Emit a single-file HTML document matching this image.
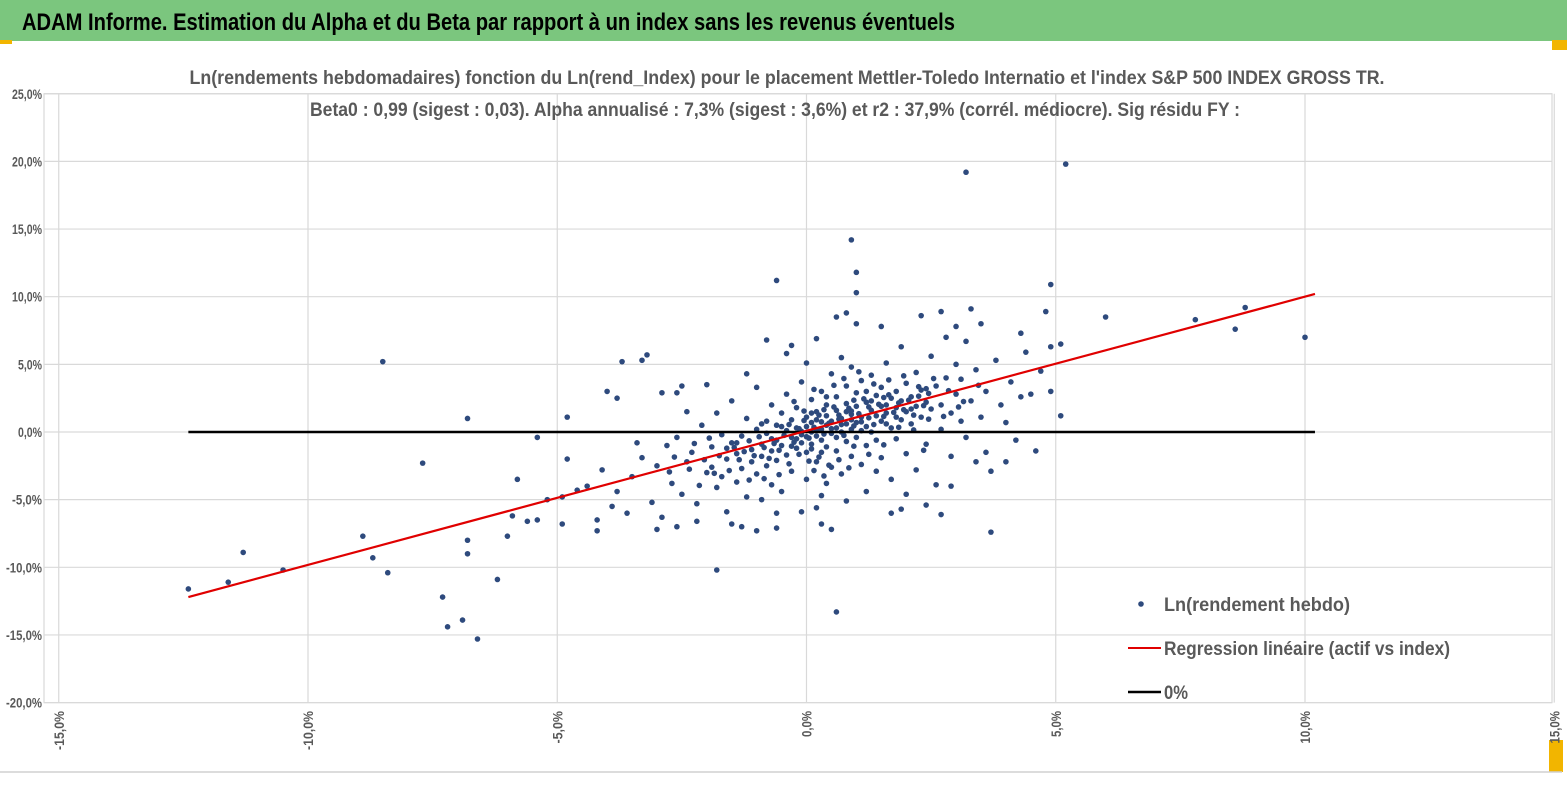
<!DOCTYPE html>
<html><head><meta charset="utf-8"><style>
html,body{margin:0;padding:0;background:#fff;}
svg{display:block;font-family:"Liberation Sans",sans-serif;}
</style></head><body>
<svg id="chart" width="1567" height="787" viewBox="0 0 1567 787">
<rect x="0" y="0" width="1567" height="41" fill="#7BC67E"/>
<text x="22" y="30" font-size="24" font-weight="bold" fill="#000" textLength="933" lengthAdjust="spacingAndGlyphs">ADAM Informe. Estimation du Alpha et du Beta par rapport à un index sans les revenus éventuels</text>
<rect x="0" y="40" width="12" height="4" fill="#F2B500"/>
<rect x="1552" y="40" width="15" height="10" fill="#F2B500"/>
<rect x="1549" y="740" width="14" height="32" fill="#F2B500"/>
<line x1="0" y1="772" x2="1562" y2="772" stroke="#D0D0D0" stroke-width="1.5"/>
<g id="grid"></g>
<g id="marks"></g>
<text x="787" y="84" text-anchor="middle" font-size="19" font-weight="bold" fill="#595959" textLength="1195" lengthAdjust="spacingAndGlyphs">Ln(rendements hebdomadaires) fonction du Ln(rend_Index) pour le placement Mettler-Toledo Internatio et l'index S&amp;P 500 INDEX GROSS TR.</text>
<text x="775" y="116" text-anchor="middle" font-size="19" font-weight="bold" fill="#595959" textLength="930" lengthAdjust="spacingAndGlyphs">Beta0 : 0,99 (sigest : 0,03). Alpha annualisé : 7,3% (sigest : 3,6%) et r2 : 37,9% (corrél. médiocre). Sig résidu FY :</text>
<g>
<circle cx="1141" cy="604" r="2.8" fill="#2E4A7D"/>
<text x="1164" y="611" font-size="19" font-weight="bold" fill="#595959" textLength="186" lengthAdjust="spacingAndGlyphs">Ln(rendement hebdo)</text>
<line x1="1128" y1="648" x2="1161" y2="648" stroke="#E00000" stroke-width="2"/>
<text x="1164" y="655" font-size="19" font-weight="bold" fill="#595959" textLength="286" lengthAdjust="spacingAndGlyphs">Regression linéaire (actif vs index)</text>
<line x1="1128" y1="692" x2="1161" y2="692" stroke="#000" stroke-width="2.5"/>
<text x="1164" y="699" font-size="19" font-weight="bold" fill="#595959" textLength="24" lengthAdjust="spacingAndGlyphs">0%</text>
</g>
</svg>
<script>
const xTicks=[-15,-10,-5,0,5,10,15];
const yTicks=[25,20,15,10,5,0,-5,-10,-15,-20];
const regressionX=[-12.4,10.2];
const regressionY=[-12.2,10.2];
const zeroLineX=[-12.4,10.2];
const zeroLineY=[0,0];
const weeklyPoints=[
[-12.4,-11.6],[-11.6,-11.1],[-11.3,-8.9],[-10.5,-10.2],[-8.9,-7.7],[-8.7,-9.3],[-8.5,5.2],[-8.4,-10.4],[-7.7,-2.3],[-7.3,-12.2],
[-7.2,-14.4],[-6.9,-13.9],[-6.8,1.0],[-6.8,-8.0],[-6.8,-9.0],[-6.6,-15.3],[-6.2,-10.9],[-6.0,-7.7],[-5.9,-6.2],[-5.8,-3.5],
[-5.6,-6.6],[-5.4,-6.5],[-5.4,-0.4],[-5.2,-5.0],[-4.9,-6.8],[-4.9,-4.8],[-4.8,-2.0],[-4.8,1.1],[-4.6,-4.3],[-4.4,-4.0],
[-4.2,-7.3],[-4.2,-6.5],[-3.9,-5.5],[-3.8,2.5],[-3.7,5.2],[-4.0,3.0],[-3.2,5.7],[-3.3,5.3],[-2.9,2.9],[-2.6,-7.0],
[-1.8,-10.2],[-0.6,11.2],[0.6,-13.3],[0.9,14.2],[1.0,11.8],[1.0,10.3],[0.8,8.8],[3.2,19.2],[5.2,19.8],[4.9,10.9],
[4.8,8.9],[4.9,6.3],[5.1,6.5],[6.0,8.5],[7.8,8.3],[8.6,7.6],[8.8,9.2],[10.0,7.0],[3.7,-7.4],[3.5,8.0],
[3.3,9.1],[5.1,1.2],[4.6,-1.4],[3.4,-2.2],[2.9,-4.0],[2.7,-6.1],[1.7,-6.0],[0.5,-7.2],[-0.6,-6.0],[-1.3,-7.0],
[0.3,-6.8],[4.0,0.7],[4.3,2.6],[4.0,-2.2],
[-3.0,-2.5],[-2.8,-1.0],[-2.7,-3.8],[-2.6,-0.4],[-2.5,-4.6],[-2.4,-2.2],[-2.3,-1.5],[-2.2,-5.3],[-2.1,0.5],[-2.0,-3.0],
[-1.9,-1.1],[-1.9,-2.6],[-1.8,-4.1],[-1.8,1.4],[-1.7,-0.2],[-1.7,-3.3],[-1.6,-2.0],[-1.6,-5.9],[-1.5,-0.8],[-1.5,2.3],
[-1.4,-1.6],[-1.4,-3.7],[-1.3,-0.3],[-1.3,-2.7],[-1.2,1.0],[-1.2,-4.8],[-1.1,-1.3],[-1.1,-2.2],[-1.0,0.2],[-1.0,-3.1],
[-1.0,3.3],[-0.9,-0.9],[-0.9,-1.8],[-0.9,-5.0],[-0.8,0.8],[-0.8,-2.5],[-0.8,-0.1],[-0.7,-1.4],[-0.7,2.0],[-0.7,-3.9],
[-0.6,-0.6],[-0.6,0.5],[-0.6,-2.1],[-0.5,1.4],[-0.5,-1.0],[-0.5,-4.4],[-0.4,0.1],[-0.4,-1.7],[-0.4,2.8],[-0.3,-0.4],
[-0.3,0.9],[-0.3,-2.9],[-0.2,0.3],[-0.2,-1.2],[-0.2,1.8],[-0.1,-0.2],[-0.1,-0.8],[-0.1,3.7],[0.0,0.4],[0.0,-1.5],
[0.0,1.1],[0.0,-3.5],[0.1,0.0],[0.1,0.7],[0.1,-0.9],[0.1,2.4],[0.2,-0.3],[0.2,1.5],[0.2,-2.2],[0.2,0.9],
[0.3,0.2],[0.3,-0.6],[0.3,3.0],[0.3,-4.7],[0.4,1.2],[0.4,-1.1],[0.4,0.5],[0.4,2.0],[0.5,-0.1],[0.5,0.8],
[0.5,-2.6],[0.5,4.3],[0.6,1.6],[0.6,0.3],[0.6,-1.4],[0.6,2.6],[0.7,0.0],[0.7,1.0],[0.7,-3.1],[0.7,5.5],
[0.8,2.1],[0.8,0.6],[0.8,-0.7],[0.8,3.4],[0.9,1.3],[0.9,-1.8],[0.9,0.2],[0.9,4.8],[1.0,1.9],[1.0,0.7],
[1.0,-0.4],[1.0,2.9],[1.1,1.1],[1.1,-2.4],[1.1,3.8],[1.2,0.4],[1.2,2.2],[1.2,-1.0],[1.3,1.6],[1.3,4.2],
[1.3,0.0],[1.4,2.7],[1.4,-0.6],[1.4,1.2],[1.5,3.3],[1.5,0.8],[1.5,-1.9],[1.6,2.0],[1.6,5.1],[1.6,1.4],
[1.7,0.3],[1.7,2.5],[1.7,-3.5],[1.8,1.8],[1.8,3.0],[1.8,-0.5],[1.9,2.3],[1.9,0.9],[1.9,6.3],[2.0,1.5],
[2.0,3.6],[2.0,-1.6],[2.1,2.6],[2.1,0.6],[2.2,1.9],[2.2,4.4],[2.2,-2.8],[2.3,3.1],[2.3,1.1],[2.4,2.2],
[2.4,-0.9],[2.5,5.6],[2.5,1.7],[2.6,3.4],[2.6,-3.9],[2.7,2.0],[2.7,0.2],[2.8,4.0],[2.8,7.0],[2.9,1.4],
[2.9,-1.8],[3.0,2.8],[3.0,5.0],[3.1,0.8],[3.1,3.9],[3.2,-0.4],[3.2,6.7],[3.3,2.3],[3.4,4.6],[3.5,1.1],
[3.6,3.0],[3.7,-2.9],[3.8,5.3],[3.9,2.0],[4.1,3.7],[4.2,-0.6],[4.4,5.9],[4.5,2.8],[4.7,4.5],[4.9,3.0],
[-3.5,-3.3],[-3.4,-0.8],[-3.6,-6.0],[-3.1,-5.2],[-3.3,-1.9],[-3.8,-4.4],[-4.1,-2.8],[-3.0,-7.2],[-2.9,-6.3],[-2.2,-6.6],
[-2.0,3.5],[-1.5,-6.8],[-1.0,-7.3],[-0.6,-7.1],[0.2,-5.6],[0.8,-5.1],[1.2,-4.4],[2.0,-4.6],[1.0,8.0],[0.6,8.5],
[1.5,7.8],[2.3,8.6],[2.7,8.9],[3.0,7.8],[-0.4,5.8],[-0.8,6.8],[-0.3,6.4],[0.2,6.9],[4.3,7.3],[3.6,-1.5],
[-1.2,4.3],[-2.4,1.5],[-2.6,2.9],[0.4,-3.8],[1.4,-2.9],[2.4,-5.4],[0.0,5.1],[-0.1,-5.9],[1.9,-5.7],[-2.5,3.4],
[-0.5,0.4],[-0.2,-0.5],[0.1,1.4],[0.3,-1.5],[0.6,-0.4],[0.9,0.9],[1.1,0.1],[1.3,2.3],[1.6,0.6],[1.8,1.1],
[-0.7,-0.5],[-0.9,0.6],[-1.4,-0.8],[0.4,2.6],[0.8,1.5],[1.2,3.0],[1.5,1.9],[2.1,1.7],[2.4,3.2],[-1.6,-1.2],
[-0.45,-0.25],[-0.35,0.55],[-0.25,-0.75],[-0.15,0.25],[-0.05,0.85],[0.05,-0.45],[0.15,0.35],[0.25,1.25],[0.35,-0.15],[0.45,0.65],
[0.55,1.85],[0.65,0.95],[0.75,-0.25],[0.85,1.75],[0.95,0.45],[1.05,1.35],[1.15,2.45],[1.25,1.05],[1.35,0.55],[1.45,2.05],
[1.55,1.15],[1.65,2.75],[1.75,1.45],[1.85,2.15],[1.95,1.65],[2.05,2.35],[2.15,1.25],[2.25,2.65],[2.35,1.95],[2.45,2.85],
[-0.55,-1.35],[-0.65,-0.85],[-0.75,-1.95],[-0.85,-1.15],[-0.95,-0.35],[-1.05,-1.75],[-1.15,-0.65],[-1.25,-1.45],[-1.35,-2.05],[-1.45,-1.15],
[-0.15,-1.65],[0.05,-2.15],[0.25,-1.85],[0.45,-2.45],[0.65,-2.05],[0.85,-2.65],[-0.25,2.25],[0.15,3.15],[0.55,3.45],[0.75,3.95],
[1.05,4.45],[1.35,3.55],[1.65,3.85],[1.95,4.15],[2.25,3.35],[2.55,3.95],[2.85,3.05],[3.15,2.25],[3.45,3.45],[-0.05,1.55],
[0.35,1.65],[0.65,1.25],[0.95,2.35],[1.25,1.85],[1.55,2.55],[1.85,0.35],[2.15,0.15],[2.45,0.95],[2.75,1.15],[3.05,1.85],
[-1.75,-1.75],[-2.05,-2.05],[-2.35,-2.75],[-2.65,-1.85],[-1.95,-0.45],[-2.25,-0.85],[-1.55,-2.85],[-1.85,-3.05],[-2.15,-3.95],[-2.75,-2.95],
[-0.35,-2.35],[-0.55,-3.15],[-0.85,-3.45],[-1.15,-3.55],[0.15,-2.85],[0.35,-3.25],[0.95,-1.05],[1.25,-1.65],[1.55,-0.95],[2.35,-1.35],
[-0.1,0.05],[0.0,-0.35],[0.2,0.15],[0.3,0.75],[0.5,0.25],[0.7,0.55],[0.9,1.55],[1.1,0.75],[0.1,-1.25],[-0.3,-1.05]
];
const NS='http://www.w3.org/2000/svg';
const X0=806.5, PX=49.85, Y0=432, PY=13.53;
function sx(v){return X0+v*PX;}
function sy(v){return Y0-v*PY;}
function mk(tag,attrs,parent){const e=document.createElementNS(NS,tag);for(const k in attrs)e.setAttribute(k,attrs[k]);parent.appendChild(e);return e;}
const grid=document.getElementById('grid');
const marks=document.getElementById('marks');
mk('rect',{x:44,y:sy(25),width:1552-44,height:sy(-20)-sy(25),fill:'none',stroke:'#D9D9D9','stroke-width':1.2},grid);
yTicks.forEach(t=>{
  const l=mk('line',{x1:44,x2:1552,y1:sy(t),y2:sy(t),stroke:'#D9D9D9','stroke-width':1.2},grid);
  
  
  const lab=t.toFixed(1).replace('.',',')+'%';
  const tx=mk('text',{x:42,y:sy(t)+5,'text-anchor':'end','font-size':14,'font-weight':'bold',fill:'#595959',textLength:lab.length*6,lengthAdjust:'spacingAndGlyphs'},grid);
  tx.textContent=lab;
  
  
});
xTicks.forEach(t=>{
  const l=mk('line',{x1:sx(t),x2:sx(t),y1:sy(25),y2:sy(-20),stroke:'#D9D9D9','stroke-width':1.2},grid);
  
  
  const lab=t.toFixed(1).replace('.',',')+'%';
  const tx=mk('text',{x:0,y:0,'text-anchor':'end','font-size':14,'font-weight':'bold',fill:'#595959',textLength:lab.length*6.5,lengthAdjust:'spacingAndGlyphs',transform:'translate('+(sx(t)+5)+',711) rotate(-90)'},grid);
  tx.textContent=lab;
  
  
});
weeklyPoints.forEach(p=>{
  const c=mk('circle',{cx:sx(p[0]),cy:sy(p[1]),r:2.8,fill:'#2E4A7D'},marks);
  
  
});
const zl=mk('line',{x1:sx(zeroLineX[0]),y1:sy(zeroLineY[0]),x2:sx(zeroLineX[1]),y2:sy(zeroLineY[1]),stroke:'#000','stroke-width':2.5},marks);


const rl=mk('line',{x1:sx(regressionX[0]),y1:sy(regressionY[0]),x2:sx(regressionX[1]),y2:sy(regressionY[1]),stroke:'#E00000','stroke-width':2.2},marks);


</script>
</body></html>
